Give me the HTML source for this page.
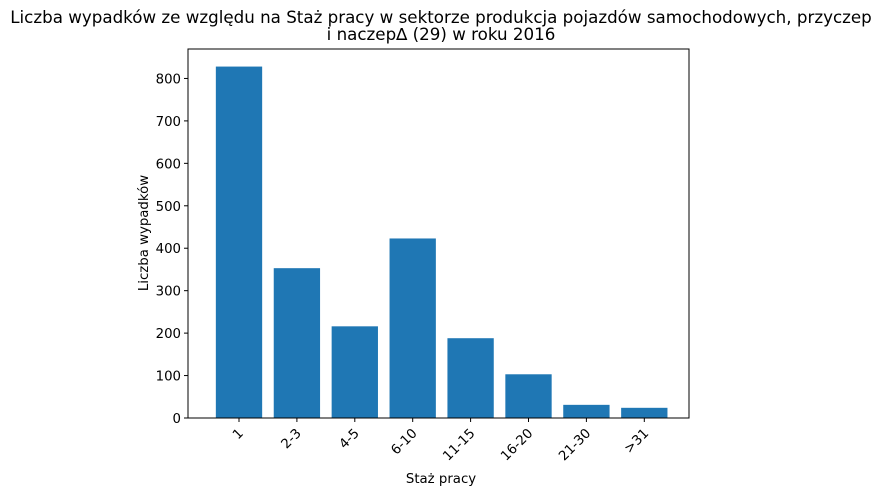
<!DOCTYPE html>
<html><head><meta charset="utf-8"><style>
body{margin:0;background:#fff;}
svg{font-family:"DejaVu Sans","Liberation Sans",sans-serif;}
</style></head><body>
<svg id="chart" width="882" height="496">
<text x="441" y="23" font-size="16.7" text-anchor="middle">Liczba wypadków ze względu na Staż pracy w sektorze produkcja pojazdów samochodowych, przyczep</text>
<text x="441" y="40" font-size="16.7" text-anchor="middle">i naczep∆ (29) w roku 2016</text>
<g id="bars"></g><g id="axes"></g>
<text x="441" y="483" font-size="13.3" text-anchor="middle">Staż pracy</text>
<text transform="translate(148,233) rotate(-90)" font-size="13.3" text-anchor="middle">Liczba wypadków</text>
</svg>
<script>
const categories=["1","2-3","4-5","6-10","11-15","16-20","21-30",">31"];
const values=[828,353,216,423,188,103,31,24];
const yTicks=[0,100,200,300,400,500,600,700,800];
const L=188,R=689,T=49,B=418;
const ymax=Math.max(...values)*1.05;
const y=v=>B-(v/ymax)*(B-T);
const n=categories.length;
const step=57.9;
const x=i=>239+i*step;
const bw=0.8*step;
const NS="http://www.w3.org/2000/svg";
const bars=document.getElementById('bars'), axes=document.getElementById('axes');
function mk(tag,attrs,parent){const e=document.createElementNS(NS,tag);for(const k in attrs)e.setAttribute(k,attrs[k]);parent.appendChild(e);return e;}
values.forEach((v,i)=>{
 const r=mk('rect',{x:x(i)-bw/2,y:y(v),width:bw,height:B-y(v),fill:'#1f77b4'},bars);
 
 
 mk('line',{x1:x(i),x2:x(i),y1:B,y2:B+4,stroke:'#000'},axes);
 const lb=mk('text',{'font-size':13.3,'text-anchor':'end',transform:`translate(${x(i)+5},${B+16}) rotate(-45)`},axes);
 lb.textContent=categories[i];
 
 
});
yTicks.forEach(v=>{
 mk('line',{x1:L-4,x2:L,y1:y(v),y2:y(v),stroke:'#000'},axes);
 const t=mk('text',{x:L-7,y:y(v)+5,'font-size':13.3,'text-anchor':'end'},axes);
 t.textContent=v;
 
 
});
const fr=mk('rect',{x:L,y:T,width:R-L,height:B-T,fill:'none',stroke:'#000','stroke-width':1},axes);


</script>
</body></html>
